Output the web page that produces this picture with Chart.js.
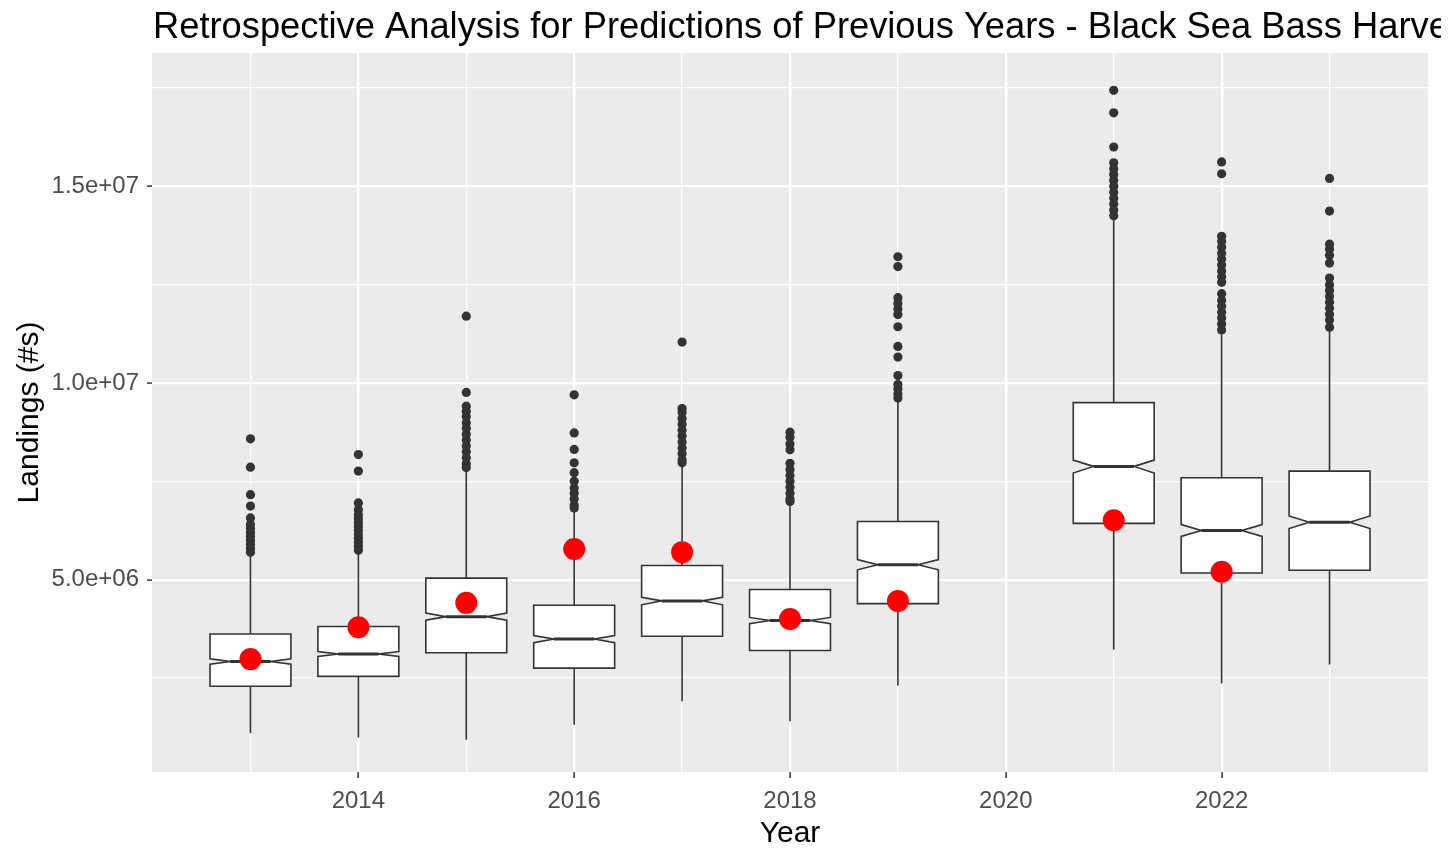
<!DOCTYPE html>
<html>
<head>
<meta charset="utf-8">
<title>Retrospective Analysis - Black Sea Bass</title>
<script src="https://cdn.jsdelivr.net/npm/chart.js@4.4.1/dist/chart.umd.min.js"></script>
<style>
  html, body { margin: 0; padding: 0; background: #fff; }
  canvas { display: block; }
</style>
</head>
<body>
<canvas id="grafica" width="1456" height="849"></canvas>
<script>
// Datos (desembarques en numero de peces)
const years = [2013, 2014, 2015, 2016, 2017, 2018, 2019, 2021, 2022, 2023];
const whiskerLow  = [1.10e6, 0.99e6, 0.93e6, 1.31e6, 1.91e6, 1.40e6, 2.31e6, 3.22e6, 2.36e6, 2.84e6];
const q1          = [2.29e6, 2.54e6, 3.14e6, 2.75e6, 3.56e6, 3.20e6, 4.39e6, 6.43e6, 5.17e6, 5.24e6];
const notchLow    = [2.85e6, 3.05e6, 3.97e6, 3.40e6, 4.36e6, 3.88e6, 5.25e6, 7.71e6, 6.10e6, 6.30e6];
const median      = [2.92e6, 3.11e6, 4.06e6, 3.49e6, 4.46e6, 3.96e6, 5.38e6, 7.88e6, 6.25e6, 6.46e6];
const notchHigh   = [2.99e6, 3.17e6, 4.15e6, 3.58e6, 4.55e6, 4.04e6, 5.51e6, 8.04e6, 6.40e6, 6.62e6];
const q3          = [3.62e6, 3.81e6, 5.04e6, 4.35e6, 5.36e6, 4.75e6, 6.48e6, 9.50e6, 7.59e6, 7.76e6];
const whiskerHigh = [5.60e6, 5.68e6, 7.80e6, 6.78e6, 7.92e6, 6.95e6, 9.58e6, 14.15e6, 11.24e6, 11.35e6];
const observed    = [2.98e6, 3.79e6, 4.41e6, 5.78e6, 5.70e6, 4.00e6, 4.46e6, 6.51e6, 5.20e6, null];
const outliers = [
  [8.58e6, 7.86e6, 7.16e6, 6.87e6, 6.57e6, 6.40e6, 6.30e6, 6.20e6, 6.10e6, 6.00e6, 5.90e6, 5.80e6, 5.70e6],
  [8.18e6, 7.76e6, 6.95e6, 6.78e6, 6.65e6, 6.55e6, 6.45e6, 6.35e6, 6.25e6, 6.15e6, 6.05e6, 5.95e6, 5.85e6, 5.75e6],
  [11.70e6, 9.76e6, 9.41e6, 9.28e6, 9.15e6, 8.99e6, 8.85e6, 8.70e6, 8.55e6, 8.40e6, 8.25e6, 8.10e6, 7.95e6, 7.85e6],
  [9.70e6, 8.73e6, 8.31e6, 7.97e6, 7.72e6, 7.50e6, 7.33e6, 7.20e6, 7.05e6, 6.90e6, 6.82e6],
  [11.04e6, 9.35e6, 9.25e6, 9.10e6, 8.95e6, 8.80e6, 8.65e6, 8.50e6, 8.35e6, 8.20e6, 8.05e6, 7.97e6],
  [8.75e6, 8.62e6, 8.45e6, 8.30e6, 7.96e6, 7.80e6, 7.65e6, 7.50e6, 7.35e6, 7.20e6, 7.05e6, 6.99e6],
  [13.21e6, 12.96e6, 12.17e6, 12.02e6, 11.88e6, 11.74e6, 11.43e6, 10.93e6, 10.66e6, 10.19e6, 9.96e6, 9.85e6, 9.72e6, 9.62e6],
  [17.44e6, 16.87e6, 16.00e6, 15.60e6, 15.45e6, 15.30e6, 15.15e6, 15.00e6, 14.85e6, 14.70e6, 14.55e6, 14.40e6, 14.25e6],
  [15.62e6, 15.32e6, 13.73e6, 13.60e6, 13.45e6, 13.30e6, 13.15e6, 13.00e6, 12.85e6, 12.70e6, 12.56e6, 12.27e6, 12.10e6, 11.95e6, 11.80e6, 11.65e6, 11.50e6, 11.35e6],
  [15.20e6, 14.37e6, 13.53e6, 13.40e6, 13.25e6, 13.05e6, 12.67e6, 12.50e6, 12.35e6, 12.20e6, 12.05e6, 11.90e6, 11.75e6, 11.60e6, 11.42e6]
];

// Ejes
const xGridYears = [2013, 2014, 2015, 2016, 2017, 2018, 2019, 2020, 2021, 2022, 2023];
const xLabelYears = [2014, 2016, 2018, 2020, 2022];
const yGridValues = [2.5e6, 5e6, 7.5e6, 10e6, 12.5e6, 15e6, 17.5e6];
const yLabelValues = [5e6, 10e6, 15e6];
const yTickLabels = ['5.0e+06', '1.0e+07', '1.5e+07'];

const titulo = 'Retrospective Analysis for Predictions of Previous Years - Black Sea Bass Harvest';
const fuente = '"Liberation Sans", Arial, sans-serif';

const puntosAtipicos = [];
years.forEach((anio, i) => {
  outliers[i].forEach(v => puntosAtipicos.push({x: anio, y: v}));
});
const puntosObservados = years
  .map((anio, i) => ({x: anio, y: observed[i]}))
  .filter(p => p.y !== null);

const cajas = {
  id: 'cajas',
  beforeDraw(chart) {
    const {ctx, chartArea: a} = chart;
    ctx.save();
    ctx.fillStyle = '#EBEBEB';
    ctx.fillRect(a.left, a.top, a.right - a.left, a.bottom - a.top);
    ctx.restore();
  },
  beforeDatasetsDraw(chart) {
    const {ctx, scales: {x, y}} = chart;
    const py = v => y.getPixelForValue(v);
    ctx.save();
    ctx.strokeStyle = '#333333';
    years.forEach((anio, i) => {
      const xl = x.getPixelForValue(anio - 0.375);
      const xr = x.getPixelForValue(anio + 0.375);
      const xc = x.getPixelForValue(anio);
      const indent = (xr - xl) * 0.25;

      // bigotes
      ctx.lineWidth = 1.6;
      ctx.beginPath();
      ctx.moveTo(xc, py(q3[i]));
      ctx.lineTo(xc, py(whiskerHigh[i]));
      ctx.moveTo(xc, py(q1[i]));
      ctx.lineTo(xc, py(whiskerLow[i]));
      ctx.stroke();

      // caja con muesca
      ctx.beginPath();
      ctx.moveTo(xl, py(q3[i]));
      ctx.lineTo(xl, py(notchHigh[i]));
      ctx.lineTo(xl + indent, py(median[i]));
      ctx.lineTo(xl, py(notchLow[i]));
      ctx.lineTo(xl, py(q1[i]));
      ctx.lineTo(xr, py(q1[i]));
      ctx.lineTo(xr, py(notchLow[i]));
      ctx.lineTo(xr - indent, py(median[i]));
      ctx.lineTo(xr, py(notchHigh[i]));
      ctx.lineTo(xr, py(q3[i]));
      ctx.closePath();
      ctx.fillStyle = '#FFFFFF';
      ctx.fill();
      ctx.stroke();

      // mediana
      ctx.lineWidth = 3;
      ctx.beginPath();
      ctx.moveTo(xl + indent, py(median[i]));
      ctx.lineTo(xr - indent, py(median[i]));
      ctx.stroke();
    });
    ctx.restore();
  },
  afterDraw(chart) {
    const {ctx, chartArea: a} = chart;
    ctx.save();
    ctx.beginPath();
    ctx.rect(0, 0, 1441, a.top);
    ctx.clip();
    ctx.font = '36.3px ' + fuente;
    ctx.fillStyle = '#000000';
    ctx.textBaseline = 'alphabetic';
    ctx.textAlign = 'left';
    ctx.fillText(titulo, a.left + 1, 38);
    ctx.restore();
  }
};

new Chart(document.getElementById('grafica'), {
  type: 'scatter',
  data: {
    datasets: [
      {
        label: 'Outliers',
        data: puntosAtipicos,
        pointRadius: 4.6,
        pointBackgroundColor: '#333333',
        pointBorderWidth: 0
      },
      {
        label: 'Observed',
        data: puntosObservados,
        pointRadius: 11,
        pointBackgroundColor: '#FF0000',
        pointBorderWidth: 0
      }
    ]
  },
  options: {
    responsive: false,
    animation: false,
    layout: { padding: { top: 53, right: 28, left: 0, bottom: 0 } },
    plugins: {
      legend: { display: false },
      tooltip: { enabled: false }
    },
    scales: {
      x: {
        type: 'linear',
        min: 2012.0875,
        max: 2023.9125,
        afterBuildTicks: s => { s.ticks = xGridYears.map(v => ({value: v})); },
        afterFit: s => { s.height = 77; },
        border: { display: false },
        grid: {
          color: '#FFFFFF',
          lineWidth: c => xLabelYears.includes(c.tick.value) ? 2.2 : 1.3,
          tickColor: c => xLabelYears.includes(c.tick.value) ? '#333333' : 'transparent',
          tickWidth: 1.5,
          tickLength: 6,
          drawTicks: true
        },
        ticks: {
          autoSkip: false,
          maxRotation: 0,
          padding: 9,
          color: '#4D4D4D',
          font: { family: fuente, size: 24 },
          callback: v => xLabelYears.includes(v) ? String(v) : ''
        },
        title: {
          display: true,
          text: 'Year',
          color: '#000000',
          font: { family: fuente, size: 30, lineHeight: 1 },
          padding: { top: 0, bottom: 0 }
        }
      },
      y: {
        type: 'linear',
        min: 0.11e6,
        max: 18.39e6,
        afterBuildTicks: s => { s.ticks = yGridValues.map(v => ({value: v})); },
        afterFit: s => { s.width = 152; },
        border: { display: false },
        grid: {
          color: '#FFFFFF',
          lineWidth: c => yLabelValues.includes(c.tick.value) ? 2.2 : 1.3,
          tickColor: c => yLabelValues.includes(c.tick.value) ? '#333333' : 'transparent',
          tickWidth: 1.5,
          tickLength: 5,
          drawTicks: true
        },
        ticks: {
          autoSkip: false,
          padding: 8,
          color: '#4D4D4D',
          font: { family: fuente, size: 24 },
          callback: v => {
            const k = yLabelValues.indexOf(v);
            return k >= 0 ? yTickLabels[k] : '';
          }
        },
        title: {
          display: true,
          text: 'Landings (#s)',
          color: '#000000',
          font: { family: fuente, size: 30, lineHeight: 1 },
          padding: { top: 15, bottom: 0 }
        }
      }
    }
  },
  plugins: [cajas]
});
</script>
</body>
</html>
